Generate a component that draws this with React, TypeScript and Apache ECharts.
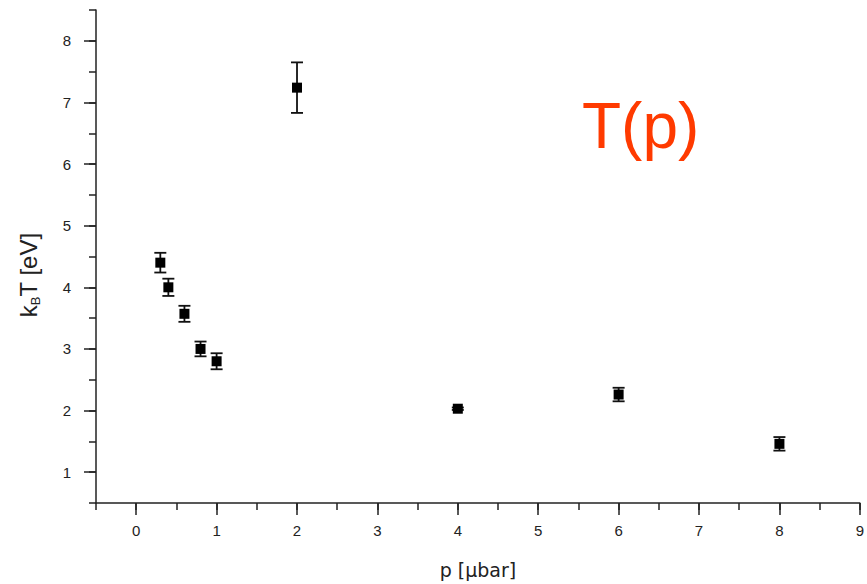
import React, { useEffect, useRef } from "react";
import * as echarts from "echarts";

// Data
const pressure = [0.3, 0.4, 0.6, 0.8, 1.0, 2.0, 4.0, 6.0, 8.0];
const temperature = [4.4, 4.0, 3.57, 3.0, 2.8, 7.24, 2.03, 2.26, 1.46];
const errors = [0.16, 0.14, 0.13, 0.12, 0.13, 0.41, 0.02, 0.11, 0.11];
const xTicks = [0, 1, 2, 3, 4, 5, 6, 7, 8, 9];
const yTicks = [1, 2, 3, 4, 5, 6, 7, 8];

const AXIS_COLOR = "#222";
const FONT = "'Liberation Sans', Arial, Helvetica, sans-serif";

export default function App() {
  const ref = useRef<HTMLDivElement>(null);

  useEffect(() => {
    if (!ref.current) return;
    const chart = echarts.init(ref.current, undefined, { renderer: "svg" });

    const points = pressure.map((p, i) => [p, temperature[i]]);
    const bars = pressure.map((p, i) => [
      p,
      temperature[i],
      temperature[i] - errors[i],
      temperature[i] + errors[i],
    ]);

    const lineStyle = { color: AXIS_COLOR, width: 1.5 };

    chart.setOption({
      animation: false,
      backgroundColor: "#fff",
      grid: { left: 96, right: 1, top: 10, bottom: 78, containLabel: false },
      xAxis: [
        {
          type: "value",
          position: "bottom",
          min: -0.5,
          max: 9,
          interval: 1,
          axisLine: { show: true, onZero: false, lineStyle },
          axisTick: { show: true, length: 12, lineStyle, customValues: xTicks },
          axisLabel: {
            customValues: xTicks,
            margin: 20,
            fontSize: 15,
            color: AXIS_COLOR,
            fontFamily: FONT,
          },
          splitLine: { show: false },
          name: "p [µbar]",
          nameLocation: "middle",
          nameGap: 57,
          nameTextStyle: { fontSize: 19, color: AXIS_COLOR, fontFamily: "'DejaVu Sans', sans-serif" },
        },
        {
          type: "value",
          position: "bottom",
          min: -0.5,
          max: 9,
          interval: 0.5,
          axisLine: { show: false, onZero: false },
          axisTick: { show: true, length: 7, lineStyle },
          axisLabel: { show: false },
          splitLine: { show: false },
        },
      ],
      yAxis: [
        {
          type: "value",
          position: "left",
          min: 0.5,
          max: 8.5,
          interval: 1,
          axisLine: { show: true, onZero: false, lineStyle },
          axisTick: { show: true, length: 12, lineStyle, customValues: yTicks },
          axisLabel: {
            customValues: yTicks,
            margin: 25,
            fontSize: 15,
            color: AXIS_COLOR,
            fontFamily: FONT,
          },
          splitLine: { show: false },
        },
        {
          type: "value",
          position: "left",
          min: 0.5,
          max: 8.5,
          interval: 0.5,
          axisLine: { show: false, onZero: false },
          axisTick: { show: true, length: 7, lineStyle },
          axisLabel: { show: false },
          splitLine: { show: false },
        },
      ],
      graphic: [
        {
          type: "text",
          x: 28,
          y: 275,
          rotation: Math.PI / 2,
          style: {
            text: "k{b|B}T [eV]",
            fontSize: 24,
            fontFamily: FONT,
            fill: AXIS_COLOR,
            align: "center",
            verticalAlign: "middle",
            rich: {
              b: { fontSize: 13, fontFamily: FONT, fill: AXIS_COLOR, padding: [14, 0, 0, 0] },
            },
          },
        },
        {
          type: "text",
          x: 582,
          y: 126,
          style: {
            text: "T(p)",
            fontSize: 64,
            fontFamily: FONT,
            fill: "#ff3a00",
            align: "left",
            verticalAlign: "middle",
          },
        },
      ],
      series: [
        {
          type: "custom",
          name: "error",
          xAxisIndex: 0,
          yAxisIndex: 0,
          data: bars,
          encode: { x: 0, y: 1 },
          z: 2,
          renderItem: (params: any, api: any) => {
            const x = api.value(0);
            const lo = api.value(2);
            const hi = api.value(3);
            const top = api.coord([x, hi]);
            const bot = api.coord([x, lo]);
            const hw = 6;
            const style = { stroke: "#111", lineWidth: 1.8 };
            return {
              type: "group",
              children: [
                { type: "line", shape: { x1: top[0], y1: top[1], x2: bot[0], y2: bot[1] }, style },
                { type: "line", shape: { x1: top[0] - hw, y1: top[1], x2: top[0] + hw, y2: top[1] }, style },
                { type: "line", shape: { x1: bot[0] - hw, y1: bot[1], x2: bot[0] + hw, y2: bot[1] }, style },
              ],
            };
          },
        },
        {
          type: "scatter",
          name: "T(p)",
          xAxisIndex: 0,
          yAxisIndex: 0,
          data: points,
          symbol: "rect",
          symbolSize: 10,
          itemStyle: { color: "#000", opacity: 1 },
          z: 3,
        },
      ],
    });

    return () => chart.dispose();
  }, []);

  return (
    <div
      ref={ref}
      style={{ position: "fixed", left: 0, top: 0, width: 867, height: 584, background: "#fff" }}
    />
  );
}
